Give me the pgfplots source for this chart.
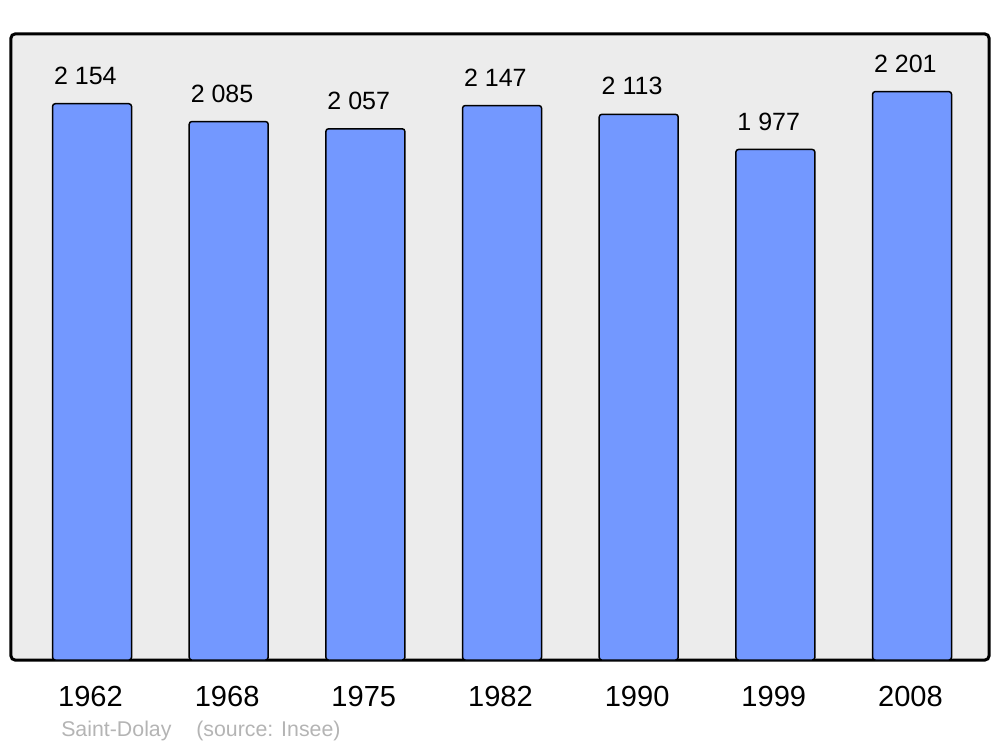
\documentclass[border=0pt]{standalone}
\usepackage{pgfplots}
\pgfplotsset{compat=1.18}
\usepackage{pgfplotstable}
\usepackage{fontspec}
\setmainfont{Liberation Sans}
\definecolor{barblue}{RGB}{115,152,255}
\definecolor{bggray}{RGB}{236,236,236}
\definecolor{srcgray}{RGB}{180,180,180}
\pgfplotstableread{
x y label
0 2154 {2 154}
1 2085 {2 085}
2 2057 {2 057}
3 2147 {2 147}
4 2113 {2 113}
5 1977 {1 977}
6 2201 {2 201}
}\popdata
\begin{document}
\begin{tikzpicture}
\useasboundingbox (0,0) rectangle (750pt,560.25pt);
\begin{axis}[
  at={(8.25pt,65.25pt)}, anchor=south west,
  scale only axis,
  width=733.5pt, height=469.5pt,
  xmin=-0.593, xmax=6.563,
  ymin=0, ymax=2424,
  axis background/.style={fill=bggray, draw=black, line width=2.25pt, rounded corners=3pt},
  axis line style={draw=none},
  ytick=\empty,
  xtick={0,1,2,3,4,5,6},
  xticklabels={1962,1968,1975,1982,1990,1999,2008},
  major tick length=0pt,
  xticklabel style={anchor=center, yshift=-27.5pt, xshift=-1.2pt, font=\fontsize{21.8}{26}\selectfont},
  /pgf/number format/assume math mode=true,
  ybar, bar width=59.25pt,
  nodes near coords={\pgfplotspointmeta},
  point meta=explicit symbolic,
  every node near coord/.style={anchor=center, yshift=21pt, xshift=-5pt, font=\fontsize{18.75}{22}\selectfont, text=black},
  clip=false,
]
\addplot[fill=barblue, draw=black, line width=1.1pt, rounded corners=2pt] table[x=x, y=y, meta=label] {\popdata};
\end{axis}
\node[anchor=west, inner sep=0pt, text=srcgray, font=\fontsize{16}{19}\selectfont] at (45.75pt,11.8pt) {Saint-Dolay};
\node[anchor=west, inner sep=0pt, text=srcgray, font=\fontsize{16}{19}\selectfont] at (147pt,11.8pt) {(source: Insee)};
\end{tikzpicture}
\end{document}
